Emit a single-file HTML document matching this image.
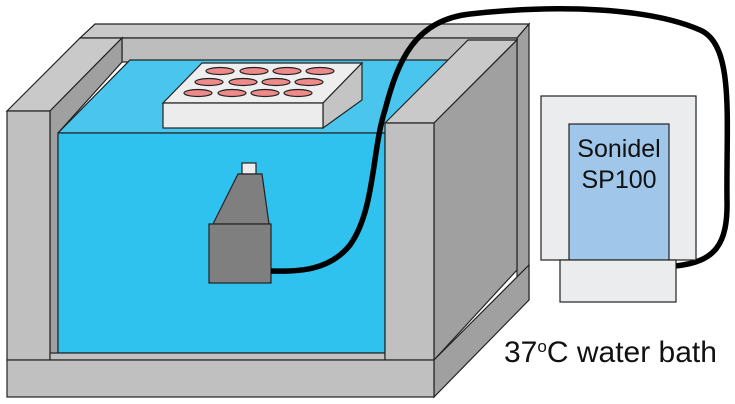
<!DOCTYPE html>
<html><head><style>body{margin:0;background:#fff}svg{display:block}</style></head><body>
<svg width="735" height="404" viewBox="0 0 735 404" xmlns="http://www.w3.org/2000/svg" stroke="#222" stroke-width="1.2" font-family="Liberation Sans, sans-serif">
<!-- back frame -->
<polygon points="95,24 529,24 517,38 80,38" fill="#c9c9c9"/>
<rect x="122" y="38" width="395" height="24" fill="#bdbdbd"/>
<polygon points="529,24 529,300 517,310 517,38" fill="#a0a0a0"/>
<!-- water top -->
<polygon points="58,133 130,60 450,60 385,133" fill="#4ac6ee"/>
<!-- left pillar -->
<polygon points="7,111 80,38 122,38 50,111" fill="#c9c9c9"/>
<polygon points="50,111 122,38 122,62 58,133 58,353 50,360" fill="#a0a0a0"/>
<rect x="7" y="111" width="43" height="249" fill="#c0c0c0"/>
<!-- water front -->
<rect x="58" y="133" width="327" height="220" fill="#2fc2ee"/>
<rect x="50" y="353" width="335" height="7" fill="#c0c0c0"/>
<!-- plate -->
<polygon points="163,103 202,63 362,63 323,103" fill="#eeeeee"/>
<polygon points="323,103 362,63 362,100 323,128" fill="#c4c4c4"/>
<rect x="163" y="103" width="160" height="25" fill="#ececec"/>
<g fill="#ee8a8a">
<ellipse cx="220" cy="71" rx="14" ry="3.5"/><ellipse cx="254" cy="71" rx="14" ry="3.5"/><ellipse cx="287" cy="71" rx="14" ry="3.5"/><ellipse cx="320" cy="71" rx="14" ry="3.5"/>
<ellipse cx="209" cy="82" rx="14" ry="3.5"/><ellipse cx="243" cy="82" rx="14" ry="3.5"/><ellipse cx="276" cy="82" rx="14" ry="3.5"/><ellipse cx="309" cy="82" rx="14" ry="3.5"/>
<ellipse cx="198" cy="93" rx="14" ry="3.5"/><ellipse cx="232" cy="93" rx="14" ry="3.5"/><ellipse cx="265" cy="93" rx="14" ry="3.5"/><ellipse cx="298" cy="93" rx="14" ry="3.5"/>
</g>
<!-- transducer -->
<rect x="242" y="163" width="14" height="11" fill="#ececec"/>
<polygon points="238,174 262,174 269,224 213,224" fill="#7f7f7f"/>
<rect x="209" y="224" width="62" height="59" fill="#7f7f7f"/>
<!-- cable -->
<path d="M271,271 C300,272 330,270 350,245 C375,210 372,150 385,110 C398,60 415,20 470,14 C560,4 650,8 700,30 C735,45 726,120 727,200 C728,245 715,262 675,266" fill="none" stroke="#000" stroke-width="5.5"/>
<!-- right pillar -->
<polygon points="385,123 468,40 517,40 434,123" fill="#c9c9c9"/>
<polygon points="434,123 517,40 517,270 434,360" fill="#a0a0a0"/>
<rect x="385" y="123" width="49" height="237" fill="#c0c0c0"/>
<!-- base -->
<polygon points="434,360 529,265 529,300 434,397" fill="#a0a0a0"/>
<rect x="7" y="360" width="427" height="37" fill="#c0c0c0"/>
<!-- controller -->
<rect x="541" y="96" width="155" height="164" fill="#ebeced"/>
<rect x="569" y="124" width="100" height="136" fill="#a0c6ea"/>
<rect x="560" y="260" width="116" height="42" fill="#ebeced"/>
<g stroke="none" fill="#111" font-size="25" text-anchor="middle">
<text x="619" y="157">Sonidel</text>
<text x="619" y="188">SP100</text>
</g>
<text x="504" y="362" stroke="none" fill="#111" font-size="30">37<tspan font-size="17" dy="-10">o</tspan><tspan dy="10">C water bath</tspan></text>
</svg>
</body></html>
